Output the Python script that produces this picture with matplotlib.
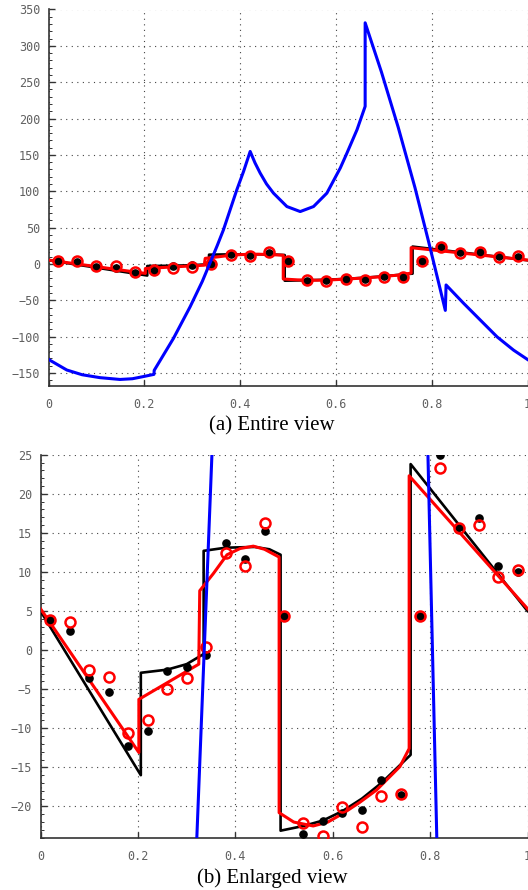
import matplotlib
matplotlib.use("Agg")
import matplotlib.pyplot as plt
from matplotlib.ticker import MultipleLocator

# sample positions
sample_x = [0.02, 0.06, 0.10, 0.14, 0.18, 0.22, 0.26, 0.30, 0.34, 0.38, 0.42, 0.46, 0.50,
            0.54, 0.58, 0.62, 0.66, 0.70, 0.74, 0.78, 0.82, 0.86, 0.90, 0.94, 0.98]
true_samples = [3.8, 2.4, -3.6, -5.3, -12.3, -10.3, -2.7, -2.1, -0.6, 13.7, 11.6, 15.3, 4.4,
                -23.5, -21.9, -20.8, -20.4, -16.6, -18.6, 4.3, 25.0, 15.7, 16.9, 10.7, 10.0]
est_samples = [3.9, 3.6, -2.5, -3.4, -10.6, -9.0, -5.0, -3.6, 0.4, 12.4, 10.8, 16.3, 4.4,
               -22.1, -23.8, -20.1, -22.6, -18.7, -18.4, 4.3, 23.3, 15.6, 16.0, 9.4, 10.2]

# true function (black)
true_x = [0.0, 0.206, 0.206, 0.26, 0.30, 0.335, 0.335, 0.38, 0.44, 0.47, 0.493, 0.493,
          0.54, 0.58, 0.62, 0.66, 0.70, 0.76, 0.76, 1.0]
true_y = [5.0, -16.0, -2.9, -2.5, -1.8, -0.5, 12.7, 13.1, 13.2, 12.9, 12.2, -23.1,
          -22.5, -21.8, -20.6, -19.0, -17.0, -13.4, 23.8, 5.0]

# estimated function (red)
est_x = [0.0, 0.202, 0.202, 0.325, 0.327, 0.355, 0.383, 0.41, 0.437, 0.46, 0.49, 0.49,
         0.52, 0.56, 0.59, 0.621, 0.655, 0.69, 0.738, 0.757, 0.757, 1.0]
est_y = [5.3, -13.1, -6.3, -1.8, 7.6, 9.8, 12.2, 13.0, 13.3, 12.9, 11.9, -20.8,
         -22.0, -22.5, -22.0, -20.9, -19.5, -17.9, -14.9, -12.6, 22.3, 5.3]

# blue curve
blue_x = [0.0, 0.038, 0.07, 0.107, 0.149, 0.175, 0.198, 0.220, 0.2205, 0.2606, 0.2955,
          0.321, 0.336, 0.352, 0.365, 0.393, 0.407, 0.4209, 0.431, 0.4418, 0.455, 0.4696,
          0.4976, 0.5254, 0.5532, 0.581, 0.609, 0.623, 0.644, 0.661, 0.661, 0.695,
          0.73, 0.765, 0.7937, 0.813, 0.8284, 0.830, 0.8667, 0.9015, 0.9365, 0.971, 1.0]
blue_y = [-131.5, -146, -152.5, -156.5, -159, -158, -155, -152, -146.5, -102.6, -59,
          -24, -0.3, 25, 46.7, 101.9, 127, 154.7, 139, 124.9, 110, 97.3,
          78.9, 72, 78.9, 97.3, 131.8, 152.5, 184.6, 216.7, 331.7, 264,
          188, 105, 30, -22, -64, -29, -54.3, -77.3, -100.4, -118.7, -131.5]

xticks = [0, 0.2, 0.4, 0.6, 0.8, 1]
xticklabels = ["0", "0.2", "0.4", "0.6", "0.8", "1"]

W, H = 528, 890
fig = plt.figure(figsize=(W / 100, H / 100), dpi=100)

ax1 = fig.add_axes([48.6 / W, 1 - 386 / H, (527.5 - 48.6) / W, (386 - 9.5) / H])
ax2 = fig.add_axes([40.5 / W, 1 - 837.7 / H, (527.5 - 40.5) / W, (837.7 - 454.7) / H])


def draw(ax, ylim, yticks, yminor):
    ax.plot(true_x, true_y, color="black", lw=1.9, zorder=3)
    ax.plot(est_x, est_y, color="red", lw=2.2, zorder=4)
    ax.plot(sample_x, true_samples, "o", color="black", ms=5.2, zorder=5)
    ax.plot(sample_x, est_samples, "o", mfc="none", mec="red", mew=1.8, ms=7.2, zorder=6)
    ax.plot(blue_x, blue_y, color="blue", lw=2.2, zorder=7)
    ax.set_xlim(0, 1)
    ax.set_ylim(*ylim)
    ax.set_xticks(xticks)
    ax.set_xticklabels(xticklabels)
    ax.set_yticks(yticks)
    ax.yaxis.set_minor_locator(MultipleLocator(yminor))
    ax.grid(True, which="major", color="#444444", linestyle=(0, (1, 4)), lw=0.8)
    for s in ["top", "right"]:
        ax.spines[s].set_visible(False)
    for s in ["left", "bottom"]:
        ax.spines[s].set_color("#333333")
        ax.spines[s].set_linewidth(1.2)
    ax.tick_params(direction="in", length=4, width=1, color="#333333",
                   labelcolor="#606060", labelsize=8.5, pad=6)
    ax.tick_params(axis="x", pad=9)
    ax.tick_params(which="minor", direction="in", length=2, width=0.7, color="#333333")
    ax.tick_params(axis="x", which="minor", length=0)
    for lab in ax.get_xticklabels() + ax.get_yticklabels():
        lab.set_family("DejaVu Sans Mono")


draw(ax1, (-168, 350), list(range(-150, 351, 50)), 10)
draw(ax2, (-24, 25), list(range(-20, 26, 5)), 1)

fig.text(272 / W, 1 - 426 / H, "(a) Entire view", ha="center", va="center",
         family="Liberation Serif", fontsize=15)
fig.text(272 / W, 1 - 878 / H, "(b) Enlarged view", ha="center", va="center",
         family="Liberation Serif", fontsize=15)

fig.savefig("out.png", dpi=100)
